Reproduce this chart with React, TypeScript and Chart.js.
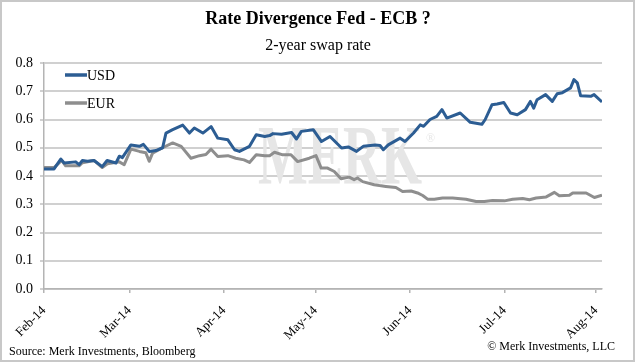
import React, { useEffect, useRef } from "react";
import { Chart, registerables } from "chart.js";

Chart.register(...registerables);

const titleText = "Rate Divergence Fed - ECB ?";
const subtitleText = "2-year swap rate";
const sourceText = "Source: Merk Investments, Bloomberg";
const copyrightText = "© Merk Investments, LLC";
const watermarkText = "MERK";

const monthLabels = ["Feb-14", "Mar-14", "Apr-14", "May-14", "Jun-14", "Jul-14", "Aug-14"];
const monthDays = [0, 28, 59, 89, 120, 151, 181];

const usdDays = [
  0, 3.3, 5.5, 6.6, 10.4, 11.5, 12.6, 14.2, 16.4, 19.1, 20.7, 23.6, 24.7, 25.7, 28.5, 31.3, 32.6, 33.9,
  34.5, 36.7, 38.9, 40, 42.2, 45.5, 47.7, 49.3, 52.1, 54.8, 57, 60.3, 62.5, 64.1, 67.4, 69.6, 72.4, 74,
  75.1, 77.9, 81.2, 82.8, 84.4, 88.3, 91, 93.8, 97.6, 99.8, 102.5, 104.7, 108.6, 110.2, 111.3, 112.9,
  116.8, 118.4, 121.2, 123.4, 124.5, 126.6, 128.8, 130.5, 132.1, 136.5, 139.8, 143.6, 144.7, 146.9,
  148.6, 150.8, 153, 155.2, 157.9, 159.5, 160.6, 161.7, 164.5, 166.7, 168.3, 170, 172.7, 173.8, 174.9,
  176, 179.3, 180.4, 183,
];
const usdValues = [
  0.425, 0.425, 0.46, 0.446, 0.45, 0.44, 0.455, 0.452, 0.455, 0.433, 0.455, 0.446, 0.47, 0.465, 0.51,
  0.505, 0.512, 0.495, 0.487, 0.49, 0.5, 0.552, 0.564, 0.58, 0.552, 0.57, 0.552, 0.575, 0.534, 0.528,
  0.493, 0.487, 0.505, 0.546, 0.54, 0.543, 0.55, 0.548, 0.554, 0.531, 0.558, 0.564, 0.522, 0.54, 0.499,
  0.503, 0.487, 0.505, 0.51, 0.508, 0.493, 0.51, 0.534, 0.522, 0.552, 0.581, 0.576, 0.6, 0.611, 0.635,
  0.605, 0.623, 0.59, 0.583, 0.6, 0.652, 0.655, 0.66, 0.623, 0.617, 0.635, 0.664, 0.64, 0.67, 0.688,
  0.664, 0.691, 0.695, 0.712, 0.741, 0.73, 0.684, 0.682, 0.688, 0.662,
];

const eurDays = [
  0, 3.3, 5.8, 7.1, 11.5, 12.6, 16.4, 19.1, 20.8, 24.7, 26.3, 28.5, 31.3, 33.4, 34.5, 35.6, 38.9, 42.2,
  45, 48.2, 51, 53.1, 54.8, 57, 60.3, 62.9, 65.6, 67.4, 69.6, 72.4, 74, 75.6, 78.3, 81, 83.2, 87, 89.2,
  90.9, 93, 95.2, 97.4, 100.1, 101.7, 102.8, 104.5, 108.3, 110, 112.1, 115.4, 117.6, 120.4, 122.5, 124.2,
  125.8, 128, 130.7, 134, 138.4, 141.7, 144.4, 147.1, 151, 153.7, 157, 159.2, 161.4, 164.7, 167.4, 169,
  172.3, 173.4, 177.8, 180.5, 183,
];
const eurValues = [
  0.43, 0.43, 0.455, 0.436, 0.436, 0.447, 0.455, 0.43, 0.443, 0.45, 0.44, 0.495, 0.487, 0.482, 0.452,
  0.481, 0.5, 0.517, 0.505, 0.463, 0.472, 0.476, 0.495, 0.469, 0.472, 0.463, 0.457, 0.448, 0.475, 0.472,
  0.472, 0.484, 0.475, 0.475, 0.451, 0.463, 0.472, 0.428, 0.428, 0.416, 0.39, 0.396, 0.387, 0.393, 0.38,
  0.369, 0.366, 0.363, 0.359, 0.345, 0.347, 0.34, 0.331, 0.318, 0.318, 0.322, 0.322, 0.318, 0.31, 0.31,
  0.313, 0.312, 0.318, 0.32, 0.316, 0.322, 0.326, 0.342, 0.33, 0.332, 0.34, 0.34, 0.324, 0.332,
];

const SERIF = "'Liberation Serif', 'Times New Roman', serif";
const USD_COLOR = "#2c5d93";
const EUR_COLOR = "#8e8e8e";

const decorPlugin = {
  id: "decor",
  beforeDatasetsDraw(chart: any) {
    const { ctx, chartArea } = chart;
    ctx.save();
    ctx.fillStyle = "#e6e6e6";
    ctx.font = `bold 84px ${SERIF}`;
    ctx.textAlign = "left";
    ctx.textBaseline = "alphabetic";
    const wx = chartArea.left + 214;
    ctx.fillText(watermarkText, wx, 184, 164);
    ctx.font = `12px ${SERIF}`;
    ctx.fillText("®", wx + 168, 142);
    ctx.restore();
  },
  afterDraw(chart: any) {
    const { ctx, chartArea } = chart;
    ctx.save();
    // frame
    ctx.strokeStyle = "#c8c8c8";
    ctx.lineWidth = 2;
    ctx.strokeRect(1, 1, 633, 360);
    // titles
    ctx.fillStyle = "#000";
    ctx.textAlign = "center";
    ctx.textBaseline = "alphabetic";
    ctx.font = `bold 18px ${SERIF}`;
    ctx.fillText(titleText, 318, 24);
    ctx.font = `16px ${SERIF}`;
    ctx.fillText(subtitleText, 318, 50);
    // footer texts
    ctx.font = `12px ${SERIF}`;
    ctx.textAlign = "left";
    ctx.fillText(sourceText, 9, 355);
    ctx.textAlign = "right";
    ctx.fillText(copyrightText, 615, 350);
    // legend
    const items = chart.data.datasets;
    ctx.textAlign = "left";
    ctx.textBaseline = "middle";
    ctx.font = `14px ${SERIF}`;
    items.forEach((ds: any, i: number) => {
      const y = chartArea.top + 12 + i * 28;
      const x0 = chartArea.left + 21;
      ctx.strokeStyle = ds.borderColor;
      ctx.lineWidth = 3.5;
      ctx.beginPath();
      ctx.moveTo(x0, y);
      ctx.lineTo(x0 + 22, y);
      ctx.stroke();
      ctx.fillStyle = "#000";
      ctx.fillText(ds.label, x0 + 22, y + 1);
    });
    ctx.restore();
  },
};

export default function App() {
  const ref = useRef<HTMLCanvasElement | null>(null);
  useEffect(() => {
    document.body.style.margin = "0";
    const canvas = ref.current!;
    const chart = new Chart(canvas, {
      type: "line",
      data: {
        datasets: [
          {
            label: "USD",
            data: usdDays.map((d, i) => ({ x: d, y: usdValues[i] })),
            borderColor: USD_COLOR,
            backgroundColor: USD_COLOR,
            borderWidth: 3,
            pointRadius: 0,
            tension: 0,
            borderJoinStyle: "round",
          },
          {
            label: "EUR",
            data: eurDays.map((d, i) => ({ x: d, y: eurValues[i] })),
            borderColor: EUR_COLOR,
            backgroundColor: EUR_COLOR,
            borderWidth: 3,
            pointRadius: 0,
            tension: 0,
            borderJoinStyle: "round",
          },
        ],
      },
      options: {
        animation: false,
        responsive: false,
        maintainAspectRatio: false,
        layout: { padding: { top: 63, right: 35, left: 0, bottom: 0 } },
        plugins: {
          legend: { display: false },
          title: { display: false },
          tooltip: { enabled: false },
        },
        scales: {
          x: {
            type: "linear",
            min: 0,
            max: 183,
            afterBuildTicks: (scale: any) => {
              scale.ticks = monthDays.map((v) => ({ value: v }));
            },
            afterFit: (scale: any) => {
              scale.height = 74;
            },
            ticks: {
              autoSkip: false,
              minRotation: 45,
              maxRotation: 45,
              padding: 10,
              color: "#000",
              font: { family: SERIF, size: 13 },
              callback: (v: any) => {
                const idx = monthDays.indexOf(Number(v));
                return idx >= 0 ? monthLabels[idx] : "";
              },
            },
            grid: {
              drawOnChartArea: false,
              drawTicks: true,
              tickLength: 4,
              color: "#b4b4b4",
              lineWidth: 1.5,
            },
            border: { display: true, color: "#b4b4b4", width: 1.5 },
          },
          y: {
            min: 0,
            max: 0.8,
            afterFit: (scale: any) => {
              scale.width = 44;
            },
            ticks: {
              stepSize: 0.1,
              padding: 7,
              color: "#000",
              font: { family: SERIF, size: 14 },
              callback: (v: any) => Number(v).toFixed(1),
            },
            grid: {
              color: "#d0d0d0",
              lineWidth: 2,
              tickLength: 4,
            },
            border: { display: true, color: "#b4b4b4", width: 1.5 },
          },
        },
      },
      plugins: [decorPlugin],
    });
    return () => chart.destroy();
  }, []);
  return <canvas ref={ref} width={637} height={363} style={{ display: "block" }} />;
}
